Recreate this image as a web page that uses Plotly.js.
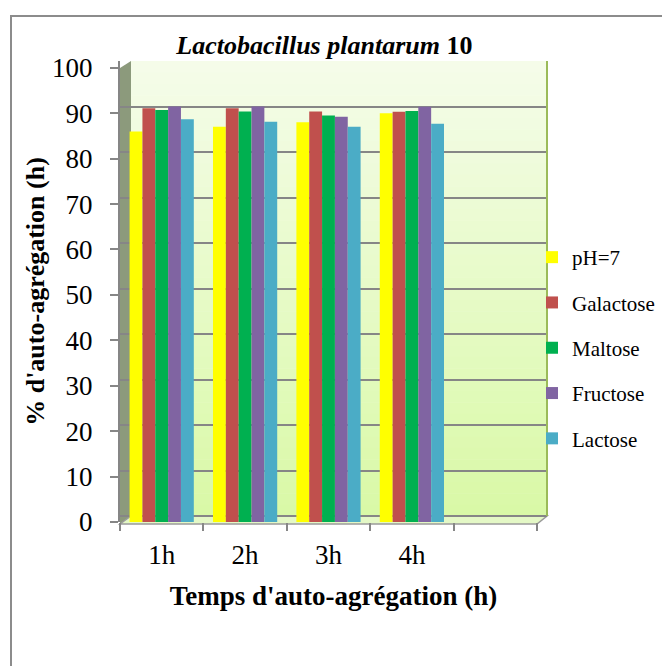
<!DOCTYPE html>
<html><head><meta charset="utf-8">
<script src="https://cdn.plot.ly/plotly-3.0.1.min.js"></script>
<style>html,body{margin:0;padding:0;background:#fff}#chart{width:662px;height:666px}</style>
</head><body><div id="chart"></div>
<script>
// ---- data ----
const categories = ['1h', '2h', '3h', '4h'];
const seriesNames = ['pH=7', 'Galactose', 'Maltose', 'Fructose', 'Lactose'];
const pH7 = [86.0, 87.0, 88.0, 90.0];
const galactose = [91.1, 91.1, 90.4, 90.3];
const maltose = [90.7, 90.4, 89.5, 90.5];
const fructose = [91.5, 91.5, 89.2, 91.4];
const lactose = [88.7, 88.1, 87.0, 87.7];
const yTicks = [0, 10, 20, 30, 40, 50, 60, 70, 80, 90, 100];
const titleText = '<b><i>Lactobacillus plantarum</i> 10</b>';
const xTitle = "<b>Temps d'auto-agrégation (h)</b>";
const yTitle = "<b>% d'auto-agrégation (h)</b>";

// ---- style ----
const colors = ['#FFFF00', '#C0504D', '#00B050', '#8064A2', '#4BACC6'];
const FONT = 'Liberation Serif, Times New Roman, serif';
const W = 662, H = 666, L = 120, R = 547, T = 61, B = 522;
const px = v => (v - L) / (R - L);
const py = v => (B - v) / (B - T);

const series = [pH7, galactose, maltose, fructose, lactose];
const traces = series.map((vals, i) => ({
  type: 'bar', name: seriesNames[i], x: categories, y: vals,
  marker: {color: colors[i]}, legendgroup: 'g' + i, hoverinfo: 'x+y+name'
}));
traces.push({type: 'scatter', mode: 'markers', x: [' '], y: [0], yaxis: 'y2',
  marker: {opacity: 0}, showlegend: false, hoverinfo: 'skip'});

// back wall gradient bands
const shapes = [];
const nb = 40, cTop = [245, 252, 234], cBot = [217, 249, 166];
for (let k = 0; k < nb; k++) {
  const t = (k + 0.5) / nb;
  const c = cTop.map((a, j) => Math.round(a + (cBot[j] - a) * t));
  const y0 = 61 + (516 - 61) * k / nb, y1 = 61 + (516 - 61) * (k + 1) / nb + 0.5;
  shapes.push({type: 'rect', xref: 'paper', yref: 'paper', layer: 'below',
    x0: px(131), x1: px(547), y0: py(y0), y1: py(y1),
    fillcolor: `rgb(${c.join(',')})`, line: {width: 0}});
}
// left wall
shapes.push({type: 'path', xref: 'paper', yref: 'paper', layer: 'below',
  path: `M ${px(120)} ${py(524)} L ${px(131)} ${py(516)} L ${px(131)} ${py(61)} L ${px(120)} ${py(68)} Z`,
  fillcolor: '#8c9a7c', line: {width: 0}});
// floor
shapes.push({type: 'path', xref: 'paper', yref: 'paper', layer: 'below',
  path: `M ${px(120)} ${py(524)} L ${px(131)} ${py(516)} L ${px(547)} ${py(516)} L ${px(537)} ${py(524)} Z`,
  fillcolor: '#e4f8c6', line: {color: '#9a9a9a', width: 1.5}});
// right edge of back wall
shapes.push({type: 'line', xref: 'paper', yref: 'paper', layer: 'above',
  x0: px(547), x1: px(547), y0: py(61), y1: py(516), line: {color: '#9bbb59', width: 2}});
// outer frame
shapes.push({type: 'rect', xref: 'paper', yref: 'paper', layer: 'above',
  x0: px(11), x1: px(720), y0: py(16), y1: py(720), line: {color: '#8c8c8c', width: 2}});

const layout = {
  width: W, height: H,
  margin: {l: L, r: W - R, t: T, b: H - B, pad: 0, autoexpand: false},
  paper_bgcolor: '#ffffff', plot_bgcolor: 'rgba(0,0,0,0)',
  font: {family: FONT, color: '#000'},
  title: {text: titleText, font: {family: FONT, size: 26, color: '#000'},
    x: 0.49, xanchor: 'center', yref: 'container', y: 1 - 45 / H, yanchor: 'middle'},
  barmode: 'group', bargap: 0.23, bargroupgap: 0,
  showlegend: true,
  legend: {x: px(532), xanchor: 'left', y: py(237), yanchor: 'top',
    font: {family: FONT, size: 21, color: '#000'}, bgcolor: 'rgba(0,0,0,0)',
    tracegroupgap: 15, itemwidth: 30},
  xaxis: {type: 'category', categoryorder: 'array', categoryarray: categories.concat([' ']),
    range: [-0.5, 4.62], tickson: 'boundaries', ticks: 'outside', ticklen: 8,
    tickcolor: '#868686', tickwidth: 2, showline: false, showgrid: false, zeroline: false,
    tickfont: {family: FONT, size: 27, color: '#000'}, ticklabelstandoff: 14,
    title: {text: xTitle, font: {family: FONT, size: 27, color: '#000'}, standoff: 17},
    fixedrange: true},
  yaxis: {range: [0, 101.5], tickmode: 'array', tickvals: yTicks, ticks: 'outside', ticklen: 8,
    tickcolor: '#868686', tickwidth: 2, showline: true, linecolor: '#868686', linewidth: 2,
    showgrid: false, zeroline: false, tickfont: {family: FONT, size: 27, color: '#000'},
    ticklabelstandoff: 12,
    title: {text: yTitle, font: {family: FONT, size: 26, color: '#000'}, standoff: 0},
    fixedrange: true},
  yaxis2: {overlaying: 'y', side: 'left', range: [-1.3, 100.1], tickmode: 'array', tickvals: yTicks,
    showgrid: true, gridcolor: '#868686', gridwidth: 2, showticklabels: false, ticks: '',
    zeroline: false, showline: false, fixedrange: true},
  shapes: shapes
};
Plotly.newPlot('chart', traces, layout, {displayModeBar: false, staticPlot: true});
</script></body></html>
